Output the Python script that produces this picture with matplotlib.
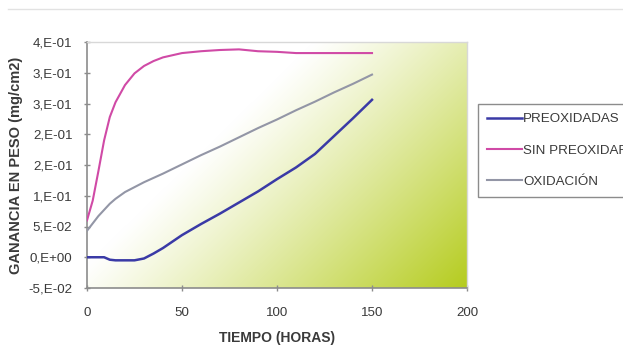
import numpy as np
import matplotlib
matplotlib.use('Agg')
import matplotlib.pyplot as plt
from matplotlib.lines import Line2D

plt.rcParams['font.family'] = ['Liberation Sans', 'DejaVu Sans']

# Datos (horas de ensayo y ganancia en peso, mg/cm2)
horas = [0, 3, 6, 9, 12, 15, 20, 25, 30, 35, 40, 50, 60, 70, 80, 90, 100, 110, 120, 130, 140, 150]
preoxidadas = [0.000, 0.000, 0.000, 0.000, -0.004, -0.005, -0.005, -0.005, -0.002, 0.006, 0.015,
               0.036, 0.054, 0.071, 0.089, 0.107, 0.127, 0.146, 0.168, 0.197, 0.226, 0.256]
sin_preoxidar = [0.060, 0.092, 0.140, 0.190, 0.228, 0.252, 0.280, 0.299, 0.311, 0.319, 0.325,
                 0.332, 0.335, 0.337, 0.338, 0.335, 0.334, 0.332, 0.332, 0.332, 0.332, 0.332]
oxidacion = [0.043, 0.055, 0.067, 0.077, 0.087, 0.095, 0.106, 0.114, 0.122, 0.129, 0.136,
             0.151, 0.166, 0.180, 0.195, 0.210, 0.224, 0.239, 0.253, 0.268, 0.282, 0.297]

yticks = [-0.05, 0.0, 0.05, 0.10, 0.15, 0.20, 0.25, 0.30, 0.35]
ytick_labels = ['-5,E-02', '0,E+00', '5,E-02', '1,E-01', '2,E-01', '2,E-01', '3,E-01', '3,E-01', '4,E-01']
xticks = [0, 50, 100, 150, 200]

textcolour = '#3a3a3a'
linecolour = '#8c8c8c'
fs = 9.6

fig = plt.figure(figsize=(6.23, 3.48), dpi=100)
fig.patch.set_facecolor('white')
ax = fig.add_axes([87 / 623, 60 / 348, 380 / 623, 246 / 348])

# Degradado diagonal del fondo: blanco arriba a la izquierda, verde abajo a la derecha
u, v = np.meshgrid(np.linspace(0, 1, 380), np.linspace(1, 0, 250))
d = (u * 380 + (1 - v) * 250) / 630
t = np.clip((d - 0.36) / 0.64, 0, 1) ** 1.1
white = np.array([1.0, 1.0, 1.0])
green = np.array([0.71, 0.80, 0.12])
img = white[None, None, :] * (1 - t[..., None]) + green[None, None, :] * t[..., None]
ax.imshow(img, extent=[0, 200, -0.05, 0.35], aspect='auto', zorder=0, interpolation='bilinear')

ax.plot(horas, preoxidadas, color='#3a3aa6', lw=1.8, label='PREOXIDADAS', zorder=3)
ax.plot(horas, sin_preoxidar, color='#d04aa6', lw=1.5, label='SIN PREOXIDAR', zorder=3)
ax.plot(horas, oxidacion, color='#9396a6', lw=1.5, label='OXIDACIÓN', zorder=3)

ax.set_xlim(0, 200)
ax.set_ylim(-0.05, 0.35)
ax.set_xticks(xticks)
ax.set_yticks(yticks)
ax.set_yticklabels(ytick_labels)

for side in ['left', 'bottom']:
    ax.spines[side].set_color(linecolour)
    ax.spines[side].set_linewidth(1.2)
for side in ['top', 'right']:
    ax.spines[side].set_color('#d8d8d8')
    ax.spines[side].set_linewidth(1.0)

ax.tick_params(axis='both', direction='inout', length=5, width=1, color=linecolour,
               labelcolor=textcolour, labelsize=fs)
ax.tick_params(axis='x', pad=11)
ax.tick_params(axis='y', pad=8)

ax.set_xlabel('TIEMPO (HORAS)', fontsize=10, fontweight='bold', color=textcolour, labelpad=9)
ax.set_ylabel('GANANCIA EN PESO (mg/cm2)', fontsize=10.5, fontweight='bold', color=textcolour, labelpad=4)

leg = fig.legend(loc='upper left', bbox_to_anchor=(478 / 623, 1 - 104 / 348), frameon=True,
                 fancybox=False, fontsize=fs, labelspacing=1.42, handlelength=2.65,
                 handletextpad=0.05, borderpad=0.68, borderaxespad=0)
leg.get_frame().set_edgecolor('#707070')
leg.get_frame().set_linewidth(1.0)
for txt in leg.get_texts():
    txt.set_color(textcolour)

# línea fina en la parte superior
fig.add_artist(Line2D([8 / 623, 1], [1 - 9 / 348, 1 - 9 / 348], color='#e2e2e2', lw=1))

fig.savefig('out.png', dpi=100)
